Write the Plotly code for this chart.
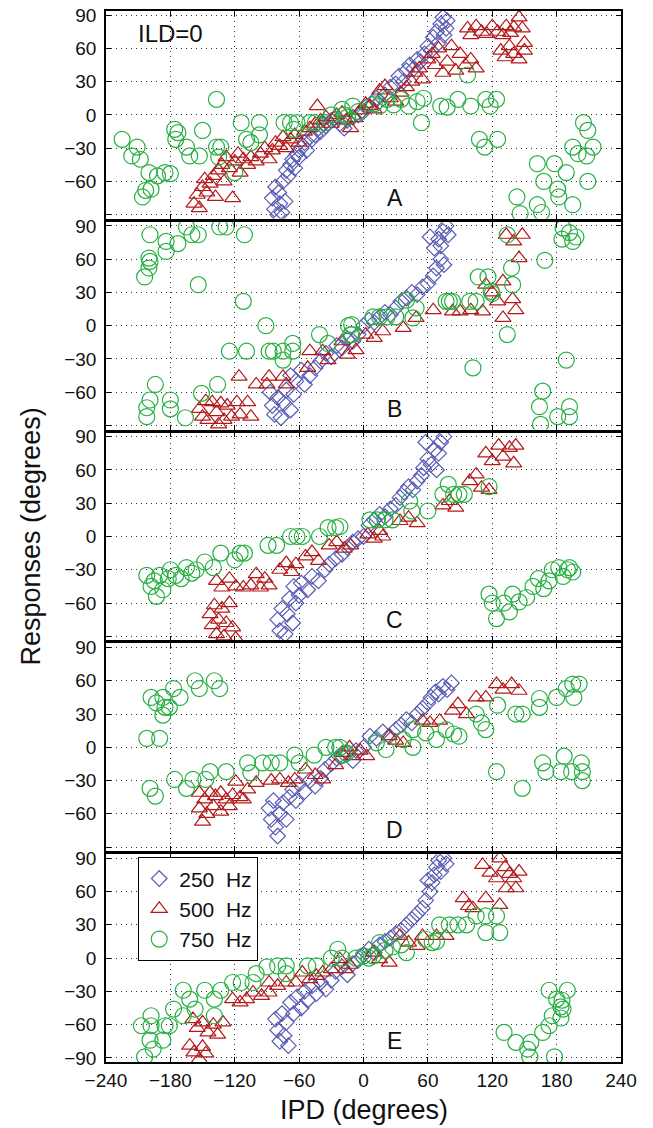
import plotly.graph_objects as go
from plotly.subplots import make_subplots

# ---------------- data ----------------
panels = ["A", "B", "C", "D", "E"]
freq_labels = ["250\u00a0\u00a0Hz", "500\u00a0\u00a0Hz", "750\u00a0\u00a0Hz"]
x_ticks = [-240, -180, -120, -60, 0, 60, 120, 180, 240]
y_ticks = [-90, -60, -30, 0, 30, 60, 90]

# Panel A (ILD=0): [IPD, response]
A_250 = [(-85,-75),(-83,-85),(-82,-65),(-80,-90),(-79,-70),(-78,-80),(-76,-88),(-75,-60),(-73,-78),(-72,-50),
         (-70,-55),(-68,-45),(-66,-40),(-64,-48),(-62,-35),(-60,-38),(-58,-30),(-55,-25),(-53,-32),(-50,-20),
         (-48,-22),(-45,-18),(-42,-12),(-40,-15),(-37,-8),(-35,-10),(-30,-5),(-27,-3),(-22,-8),(-18,-12),
         (-15,-5),(-10,-2),(-5,0),(0,3),(3,8),(8,10),(12,15),(15,12),(20,18),(25,25),(30,28),(33,35),(37,30),
         (40,40),(43,45),(47,42),(50,50),(53,48),(57,55),(60,62),(63,58),(65,70),(68,75),(70,65),(72,82),
         (74,88),(75,72),(77,78),(78,85)]
A_500 = [(-158,-80),(-155,-72),(-153,-84),(-150,-65),(-148,-58),(-146,-70),(-143,-62),(-140,-55),(-138,-74),
         (-135,-50),(-132,-45),(-130,-60),(-128,-38),(-125,-48),(-122,-75),(-120,-42),(-117,-35),(-115,-52),
         (-112,-40),(-108,-45),(-105,-38),(-100,-42),(-96,-35),(-92,-30),(-88,-40),(-85,-32),(-82,-25),
         (-78,-28),(-75,-20),(-72,-30),(-68,-22),(-64,-18),(-60,-25),(-55,-15),(-50,-12),(-45,-8),(-43,8),
         (-40,-5),(-35,-2),(-30,-8),(-25,0),(-20,2),(-16,-5),(-12,-12),(-8,-3),(-3,4),(2,10),(6,8),(10,5),
         (15,22),(20,26),(25,15),(30,12),(35,20),(40,25),(45,30),(48,38),(52,42),(55,32),(60,50),(64,55),
         (67,45),(70,60),(74,38),(78,48),(82,62),(86,40),(90,55),(95,45),(100,50),(105,42),(97,78),(100,72),
         (105,80),(110,75),(115,73),(120,80),(125,75),(130,72),(133,80),(137,74),(140,79),(145,88),(148,78),
         (128,58),(132,52),(136,62),(140,55),(145,50),(150,58),(150,65)]
A_750 = [(-225,-22),(-216,-37),(-211,-29),(-208,-40),(-203,-68),(-206,-74),(-200,-52),(-198,-67),(-192,-55),
         (-185,-52),(-180,-53),(-176,-13),(-173,-16),(-175,-22),(-165,-29),(-162,-37),(-153,-37),(-150,-14),
         (-137,14),(-137,-29),(-133,-29),(-135,-38),(-120,-52),(-114,-7),(-109,-22),(-105,-25),(-97,-7),
         (-97,-18),(-74,-7),(-68,-7),(-62,-7),(-65,-13),(-50,-7),(-45,-7),(-36,-7),(-30,0),(-18,0),(-10,8),
         (-20,5),(-15,-2),(-5,3),(10,10),(15,8),(22,14),(28,9),(35,14),(42,8),(50,12),(56,15),(54,-7),(72,8),
         (78,7),(88,14),(97,36),(100,8),(114,14),(118,8),(124,14),(108,-22),(113,-29),(125,-22),(205,-7),
         (209,-14),(195,-29),(200,-35),(208,-37),(214,-29),(162,-44),(178,-44),(189,-52),(168,-60),(181,-67),
         (182,-74),(195,-81),(209,-60),(143,-74),(146,-89),(162,-81),(166,-88)]

# Panel B
B_250 = [(-87,-60),(-85,-72),(-83,-80),(-80,-65),(-77,-83),(-74,-70),(-72,-58),(-68,-76),(-65,-62),(-68,-45),
         (-63,-50),(-58,-40),(-55,-53),(-50,-45),(-45,-38),(-40,-32),(-35,-25),(-30,-28),(-25,-18),(-20,-20),
         (-15,-12),(-10,-14),(-5,-8),(0,0),(5,5),(10,3),(15,8),(20,12),(25,10),(30,16),(35,22),(40,25),(45,30),
         (50,28),(55,35),(60,38),(65,45),(68,52),(72,60),(75,55),(66,70),(70,78),(74,85),(77,90),(79,82),
         (72,72),(62,80)]
B_500 = [(-153,-75),(-150,-82),(-147,-68),(-145,-85),(-141,-69),(-137,-78),(-135,-89),(-133,-70),(-130,-85),
         (-127,-72),(-123,-82),(-118,-69),(-115,-80),(-108,-69),(-105,-82),(-116,-46),(-100,-53),(-90,-53),
         (-88,-46),(-75,-46),(-72,-53),(-50,-23),(-52,-38),(-38,-23),(-33,-31),(-20,-14),(-15,-26),(-7,-22),
         (2,-8),(10,-11),(18,-5),(37,-2),(49,7),(65,14),(83,13),(90,13),(100,14),(111,13),(130,7),(142,14),
         (114,37),(120,30),(125,22),(130,40),(139,24),(145,61),(133,82),(140,76),(148,82)]
B_750 = [(-199,82),(-184,76),(-184,67),(-173,74),(-165,89),(-160,82),(-154,82),(-134,89),(-128,89),(-111,82),
         (-200,61),(-199,58),(-200,52),(-204,44),(-154,37),(-112,22),(-91,0),(-125,-23),(-109,-23),(-88,-23),
         (-84,-23),(-75,-23),(-66,-16),(-66,-23),(-75,-31),(-41,-8),(-33,-16),(-14,0),(-12,-8),(-194,-53),
         (-199,-67),(-202,-74),(-180,-67),(-180,-75),(-166,-83),(-202,-82),(-151,-61),(-136,-53),(-11,1),
         (-11,-8),(9,8),(15,8),(22,8),(30,8),(40,23),(49,16),(46,7),(77,22),(80,22),(83,22),(99,22),(105,22),
         (107,44),(116,44),(119,31),(120,29),(138,52),(139,37),(134,82),(134,-8),(102,-38),(169,59),(189,-31),
         (186,88),(192,84),(198,80),(195,76),(185,78),(167,-59),(164,-73),(165,-89),(181,-82),(192,-73),
         (192,-82)]

# Panel C
C_250 = [(-80,-75),(-78,-85),(-76,-65),(-73,-88),(-71,-70),(-69,-56),(-66,-78),(-63,-60),(-60,-53),(-65,-45),
         (-58,-42),(-52,-48),(-48,-36),(-42,-40),(-36,-30),(-32,-25),(-26,-20),(-20,-16),(-15,-10),(-10,-5),
         (-5,-2),(0,0),(5,10),(10,15),(15,20),(20,18),(25,25),(30,28),(34,35),(38,40),(42,45),(46,42),(50,50),
         (54,55),(56,62),(60,70),(63,65),(66,78),(70,75),(72,85),(75,90),(58,85),(68,60)]
C_500 = [(-143,-70),(-141,-80),(-139,-62),(-137,-88),(-135,-75),(-132,-65),(-130,-90),(-128,-78),(-125,-60),
         (-122,-82),(-119,-92),(-137,-40),(-132,-46),(-125,-38),(-119,-45),(-112,-46),(-105,-44),(-100,-34),
         (-96,-46),(-92,-38),(-88,-44),(-78,-30),(-72,-24),(-67,-32),(-63,-25),(-54,-18),(-48,-14),(-42,-22),
         (-32,-8),(-25,-5),(-18,-11),(-12,-8),(4,2),(10,-2),(15,5),(18,0),(34,14),(42,17),(50,12),(74,28),
         (80,32),(86,26),(99,50),(105,56),(110,44),(117,42),(114,75),(120,68),(126,82),(130,72),(136,80),
         (140,66),(142,82)]
C_750 = [(-202,-35),(-198,-45),(-195,-40),(-193,-54),(-190,-35),(-187,-48),(-182,-38),(-180,-30),(-175,-35),
         (-170,-38),(-165,-28),(-160,-33),(-156,-30),(-148,-23),(-140,-28),(-133,-15),(-120,-21),(-115,-15),
         (-111,-15),(-89,-8),(-81,-8),(-68,0),(-57,0),(-62,0),(-41,0),(-33,8),(-26,8),(-22,9),(6,15),(13,15),
         (20,15),(27,15),(43,32),(45,23),(60,23),(74,38),(79,47),(84,38),(89,38),(94,38),(117,45),(117,-52),
         (120,-60),(124,-74),(131,-60),(136,-68),(139,-52),(145,-59),(152,-55),(158,-45),(163,-38),(168,-47),
         (173,-40),(176,-30),(182,-28),(186,-36),(190,-30),(195,-32),(192,-28)]

# Panel D
D_250 = [(-88,-55),(-86,-65),(-84,-48),(-82,-72),(-80,-80),(-78,-60),(-75,-50),(-72,-65),(-69,-45),(-66,-38),
         (-63,-48),(-60,-33),(-55,-40),(-50,-30),(-45,-35),(-40,-28),(-36,-20),(-30,-15),(-25,-10),(-20,-8),
         (-15,-5),(-10,-12),(-7,-3),(0,0),(6,10),(12,8),(18,14),(24,10),(30,16),(35,20),(40,25),(45,22),
         (50,30),(55,35),(60,40),(63,45),(67,50),(70,48),(74,55),(78,52),(82,58)]
D_500 = [(-153,-41),(-148,-47),(-143,-41),(-138,-44),(-133,-41),(-128,-47),(-122,-43),(-115,-45),(-112,-47),
         (-153,-55),(-146,-60),(-140,-53),(-133,-58),(-125,-53),(-150,-67),(-119,-31),(-108,-38),(-100,-32),
         (-86,-30),(-78,-29),(-70,-32),(-64,-29),(-54,-20),(-45,-25),(-38,-29),(-26,-16),(-13,0),(-20,-5),
         (-10,-8),(-3,-3),(3,-8),(24,10),(30,6),(37,4),(55,24),(62,22),(71,24),(83,33),(88,39),(96,30),
         (105,45),(114,45),(124,57),(130,52),(138,57),(145,51)]
D_750 = [(-202,8),(-190,8),(-199,-37),(-194,-44),(-198,45),(-193,40),(-187,45),(-185,36),(-181,36),(-187,29),
         (-177,53),(-171,45),(-157,60),(-153,53),(-139,60),(-134,53),(-176,-29),(-165,-37),(-159,-29),
         (-147,-29),(-143,-22),(-128,-22),(-108,-14),(-105,-23),(-94,-14),(-86,-14),(-78,-14),(-64,-7),
         (-60,-14),(-46,-7),(-35,0),(-26,0),(-19,-7),(-22,0),(-16,-5),(12,4),(21,-2),(37,7),(46,0),(46,16),
         (58,13),(68,7),(77,16),(84,12),(89,10),(105,30),(110,22),(114,16),(125,38),(142,30),(148,30),
         (164,44),(164,36),(180,45),(189,53),(195,57),(201,57),(196,45),(124,-22),(148,-37),(167,-14),
         (170,-22),(184,-22),(187,-8),(194,-22),(203,-14),(204,-22),(204,-30)]

# Panel E
E_250 = [(-82,-55),(-80,-65),(-78,-75),(-76,-50),(-74,-70),(-72,-58),(-70,-79),(-68,-40),(-65,-50),(-62,-35),
         (-58,-45),(-55,-30),(-52,-38),(-48,-25),(-44,-32),(-40,-22),(-35,-28),(-30,-20),(-26,-12),(-20,-8),
         (-15,-15),(-10,-5),(-5,-2),(0,3),(5,8),(10,5),(15,12),(20,15),(25,18),(30,22),(35,25),(40,30),
         (45,35),(50,40),(55,45),(58,52),(62,60),(64,68),(66,75),(68,82),(70,88),(72,78),(75,90),(77,85),
         (60,70)]
E_500 = [(-162,-79),(-158,-85),(-153,-91),(-150,-80),(-147,-86),(-159,-55),(-155,-63),(-150,-58),(-145,-67),
         (-140,-60),(-136,-69),(-131,-58),(-122,-37),(-115,-40),(-109,-37),(-103,-31),(-95,-34),(-88,-31),
         (-88,-22),(-80,-25),(-72,-22),(-63,-22),(-57,-13),(-50,-19),(-44,-16),(-38,-13),(-30,-10),(-17,-10),
         (-22,-1),(-13,-6),(9,5),(15,-1),(24,-4),(34,20),(42,14),(50,11),(55,20),(68,20),(77,20),(93,54),
         (98,47),(102,45),(114,54),(127,48),(111,84),(118,77),(124,72),(127,90),(132,82),(136,76),(140,72),
         (145,78),(133,63),(142,63)]
E_750 = [(-204,-89),(-196,-82),(-199,-74),(-187,-74),(-207,-61),(-198,-61),(-185,-61),(-181,-61),(-198,-52),
         (-177,-46),(-168,-52),(-168,-29),(-162,-37),(-157,-46),(-148,-29),(-139,-37),(-139,-52),(-133,-29),
         (-122,-22),(-114,-22),(-103,-22),(-100,-14),(-90,-8),(-80,-7),(-72,-7),(-72,-14),(-52,-7),(-44,-7),
         (-30,0),(-24,8),(-20,0),(-7,0),(0,2),(5,0),(9,2),(15,14),(20,7),(27,10),(35,12),(40,5),(58,17),
         (64,14),(68,15),(71,30),(80,30),(88,30),(96,30),(105,38),(114,38),(124,38),(114,23),(127,23),
         (131,-67),(142,-76),(153,-82),(155,-89),(178,-89),(156,-76),(167,-67),(173,-61),(176,-52),(184,-54),
         (184,-44),(180,-37),(173,-29),(190,-29),(185,-38),(186,-46)]

series = {"A": [A_250, A_500, A_750], "B": [B_250, B_500, B_750], "C": [C_250, C_500, C_750],
          "D": [D_250, D_500, D_750], "E": [E_250, E_500, E_750]}

# ---------------- figure ----------------
FONT = "Liberation Sans, Arial, sans-serif"
styles = [
    dict(symbol="diamond-open", size=12, color="#5a5eb4"),
    dict(symbol="triangle-up-open", size=14, color="#b31b1b"),
    dict(symbol="circle-open", size=16, color="#27b043"),
]

fig = make_subplots(rows=5, cols=1, shared_xaxes=True, vertical_spacing=0.00285)

for i, p in enumerate(panels):
    for j, pts in enumerate(series[p]):
        st = styles[j]
        fig.add_trace(go.Scatter(
            x=[q[0] for q in pts], y=[q[1] for q in pts], mode="markers",
            name=freq_labels[j], legendgroup=freq_labels[j], showlegend=(i == 4),
            marker=dict(symbol=st["symbol"], size=st["size"], color=st["color"],
                        line=dict(width=1.2, color=st["color"])),
            hoverinfo="skip"), row=i + 1, col=1)

axis_common = dict(showgrid=True, griddash="1px,4px", gridcolor="#333", gridwidth=1,
                   showline=True, linecolor="black", linewidth=1.6, mirror="allticks",
                   ticks="inside", ticklen=5, tickwidth=1.3, tickcolor="black",
                   zeroline=False, automargin=False,
                   tickfont=dict(family=FONT, size=19, color="#111"))

fig.update_xaxes(range=[-240, 240], tickmode="array", tickvals=x_ticks,
                 ticktext=[("\u2212" + str(-v)) if v < 0 else str(v) for v in x_ticks],
                 **axis_common)
for r in range(1, 6):
    ttext = [("\u2212" + str(-v)) if v < 0 else str(v) for v in y_ticks]
    if r < 5:
        ttext[0] = ""
    fig.update_yaxes(range=[-93.7, 93.7], tickmode="array", tickvals=y_ticks, ticktext=ttext,
                     ticklabelstandoff=4, row=r, col=1, **axis_common)

annotations = []
for i, p in enumerate(panels):
    sfx = "" if i == 0 else str(i + 1)
    annotations.append(dict(text=p, x=29, y=-75, xref="x" + sfx, yref="y" + sfx, showarrow=False,
                            font=dict(family=FONT, size=23, color="#111")))
annotations.append(dict(text="ILD=0", x=-180, y=73, xref="x", yref="y", showarrow=False,
                        font=dict(family=FONT, size=24, color="#111")))
annotations.append(dict(text="IPD (degrees)", x=0.5, y=0, xref="paper", yref="paper", yshift=-48,
                        yanchor="middle", showarrow=False, font=dict(family=FONT, size=27, color="#111")))
annotations.append(dict(text="Responses (degrees)", x=0, y=0.5, xref="paper", yref="paper", xshift=-76,
                        textangle=-90, xanchor="center", yanchor="middle", showarrow=False,
                        font=dict(family=FONT, size=27, color="#111")))

fig.update_layout(
    width=653, height=1128,
    margin=dict(l=106, r=32, t=11, b=66),
    paper_bgcolor="white", plot_bgcolor="white",
    annotations=annotations,
    legend=dict(x=0.062, y=0.195, xanchor="left", yanchor="top",
                bgcolor="white", bordercolor="black", borderwidth=1.3,
                font=dict(family=FONT, size=21, color="#111"), tracegroupgap=0),
    showlegend=True,
)

fig.write_html("out.html", config={"displayModeBar": False},
               post_script="document.body.style.margin='0px';document.body.style.overflow='hidden';")
